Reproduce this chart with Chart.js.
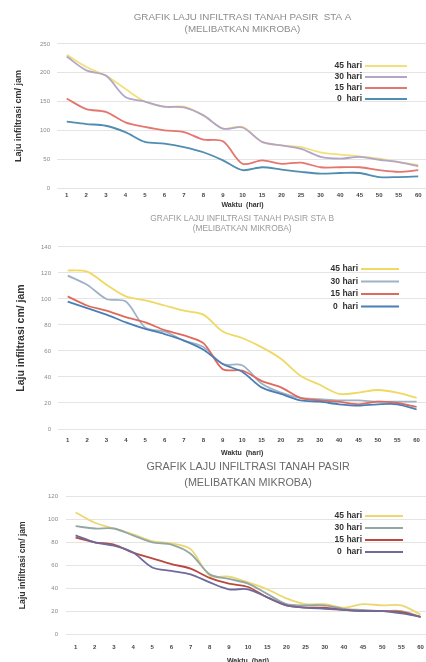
<!DOCTYPE html>
<html>
<head>
<meta charset="utf-8">
<script src="https://cdn.jsdelivr.net/npm/chart.js@4.4.1/dist/chart.umd.min.js"></script>
<style>
  html, body { margin: 0; padding: 0; background: #fff; width: 426px; height: 662px; overflow: hidden; position: relative; }
  .box { position: absolute; left: 0; }
  canvas { display: block; }
</style>
</head>
<body>
<div class="box" style="top:0px"><canvas id="chartA" width="428" height="212"></canvas></div>
<div class="box" style="top:207px"><canvas id="chartB" width="428" height="251"></canvas></div>
<div class="box" style="top:455px"><canvas id="chartC" width="434" height="211"></canvas></div>
<script>
// x categories (waktu, hari)
const days = ['1','2','3','4','5','6','7','8','9','10','15','20','25','30','40','45','50','55','60'];
const seriesNames = ['45 hari', '30 hari', '15 hari', '0  hari'];

// STA A
const staA45 = [231, 210, 195, 172, 150, 141, 141, 126, 103, 106, 80, 74, 71, 62, 58, 55, 51, 45, 40];
const staA30 = [228, 204, 195, 158, 150, 141, 140, 126, 103, 105, 80, 74, 68, 54, 51, 54, 49, 45, 38];
const staA15 = [155, 137, 132, 114, 106, 100, 97, 84, 81, 42, 48, 42, 44, 36, 36, 36, 31, 28, 31];
const staA0  = [115, 111, 108, 97, 80, 77, 71, 62, 48, 31, 36, 32, 28, 25, 26, 26, 19, 19, 20];

// STA B
const staB45 = [122, 121, 111, 102, 99, 95, 91, 88, 75, 70, 63, 54, 41, 34, 27, 28, 30, 28, 24];
const staB30 = [118, 111, 100, 98, 78, 75, 68, 63, 50, 49, 35, 28, 24, 23, 22, 22, 21, 21, 21];
const staB15 = [102, 95, 91, 86, 82, 76, 72, 66, 46, 45, 37, 32, 24, 22, 21, 19, 21, 20, 17];
const staB0  = [98, 93, 88, 82, 77, 73, 68, 61, 50, 44, 32, 27, 22, 21, 19, 18, 19, 19, 15];

// third chart (no station in title)
const staC45 = [106, 97, 92, 87, 81, 79, 74, 51, 50, 45, 39, 31, 26, 26, 23, 26, 25, 25, 17];
const staC30 = [94, 92, 92, 86, 80, 78, 70, 52, 48, 44, 35, 26, 25, 25, 22, 21, 20, 20, 15];
const staC15 = [84, 80, 78, 71, 66, 61, 57, 49, 44, 41, 32, 25, 23, 23, 21, 20, 20, 19, 15];
const staC0  = [86, 80, 77, 71, 58, 55, 52, 45, 39, 39, 32, 25, 23, 22, 21, 20, 20, 18, 15];

Chart.defaults.font.family = '"Liberation Sans", Arial, sans-serif';
Chart.defaults.animation = false;

// legend drawn inside the plot: text first, sample line on the right
const insideLegend = {
    id: 'insideLegend',
    afterDatasetsDraw(chart, args, opts) {
        const ctx = chart.ctx;
        ctx.save();
        ctx.font = 'bold ' + opts.size + 'px "Liberation Sans", Arial, sans-serif';
        ctx.textAlign = 'right';
        ctx.textBaseline = 'middle';
        chart.data.datasets.forEach((ds, i) => {
            const y = opts.y + i * opts.dy;
            ctx.fillStyle = '#333';
            ctx.fillText(ds.label, opts.x, y);
            ctx.strokeStyle = ds.borderColor;
            ctx.lineWidth = 2;
            ctx.beginPath();
            ctx.moveTo(opts.x + 3, y);
            ctx.lineTo(opts.x + 3 + opts.len, y);
            ctx.stroke();
        });
        ctx.restore();
    }
};

function makeChart(id, values, colors, s) {
    const datasets = values.map((v, i) => ({
        label: seriesNames[i],
        data: v,
        borderColor: colors[i],
        borderWidth: 1.8,
        pointRadius: 0,
        tension: 0.3,
        fill: false
    }));
    // lower series drawn over the upper ones
    datasets.forEach((d, i) => { d.order = -i; });

    return new Chart(document.getElementById(id), {
        type: 'line',
        data: { labels: days, datasets: datasets },
        plugins: [insideLegend],
        options: {
            responsive: false,
            layout: { padding: { top: 0, bottom: s.padBottom, left: 0, right: 0 } },
            plugins: {
                legend: { display: false },
                tooltip: { enabled: false },
                title: {
                    display: true,
                    text: s.title,
                    fullSize: false,
                    color: s.titleColor,
                    font: { size: s.titleSize, lineHeight: s.titleLH, weight: 'normal' },
                    padding: { top: s.titleTop, bottom: s.titleBottom }
                },
                insideLegend: s.legend
            },
            scales: {
                x: {
                    offset: true,
                    grid: { display: false, drawTicks: false },
                    border: { display: false },
                    ticks: { color: '#444', font: { size: 6, weight: 'bold' }, padding: s.xPad, autoSkip: false, maxRotation: 0 },
                    title: { display: true, text: 'Waktu  (hari)', color: '#333', font: { size: 7, weight: 'bold' }, padding: { top: 0, bottom: 0 } },
                    afterFit: (scale) => { scale.height = s.xHeight; }
                },
                y: {
                    min: 0,
                    max: s.yMax,
                    grid: { color: '#e4e4e4', lineWidth: 1, drawTicks: false },
                    border: { display: false },
                    ticks: { stepSize: s.yStep, color: '#8a8a8a', font: { size: 6 }, padding: s.yPad },
                    title: { display: true, text: 'Laju infiltrasi cm/ jam', color: '#333', font: { size: s.yTitleSize, weight: 'bold' }, padding: { top: s.yTitleTop, bottom: 0 } },
                    afterFit: (scale) => { scale.width = s.yWidth; }
                }
            }
        }
    });
}

makeChart('chartA', [staA45, staA30, staA15, staA0],
    ['#f2e07a', '#b3a5c8', '#e3766e', '#4f8db2'],
    {
        title: ['GRAFIK LAJU INFILTRASI TANAH PASIR  STA A', '(MELIBATKAN MIKROBA)'],
        titleColor: '#8c8c8c', titleSize: 9.8, titleLH: 1.22, titleTop: 11, titleBottom: 9,
        padBottom: 3, xPad: 4, xHeight: 21,
        yMax: 250, yStep: 50, yPad: 7, yWidth: 57, yTitleSize: 9, yTitleTop: 13,
        legend: { x: 362, y: 66, dy: 11, len: 42, size: 8.5 }
    });

makeChart('chartB', [staB45, staB30, staB15, staB0],
    ['#efd962', '#9fb2c6', '#df6a5c', '#4a7fb6'],
    {
        title: ['GRAFIK LAJU INFILTRASI TANAH PASIR STA B', '(MELIBATKAN MIKROBA)'],
        titleColor: '#9a9a9a', titleSize: 8.4, titleLH: 1.19, titleTop: 7, titleBottom: 13,
        padBottom: 1, xPad: 8, xHeight: 28,
        yMax: 140, yStep: 20, yPad: 7, yWidth: 58, yTitleSize: 10.5, yTitleTop: 15,
        legend: { x: 358, y: 62, dy: 12.5, len: 38, size: 8.5 }
    });

makeChart('chartC', [staC45, staC30, staC15, staC0],
    ['#ecd772', '#93a7a2', '#b9483f', '#6f6a9c'],
    {
        title: ['GRAFIK LAJU INFILTRASI TANAH PASIR', '(MELIBATKAN MIKROBA)'],
        titleColor: '#6a6a6a', titleSize: 10.8, titleLH: 1.5, titleTop: 4, titleBottom: 5,
        padBottom: 1, xPad: 10, xHeight: 31,
        yMax: 120, yStep: 20, yPad: 8, yWidth: 66, yTitleSize: 8.6, yTitleTop: 17,
        legend: { x: 362, y: 61, dy: 12, len: 38, size: 8.5 }
    });
</script>
</body>
</html>
